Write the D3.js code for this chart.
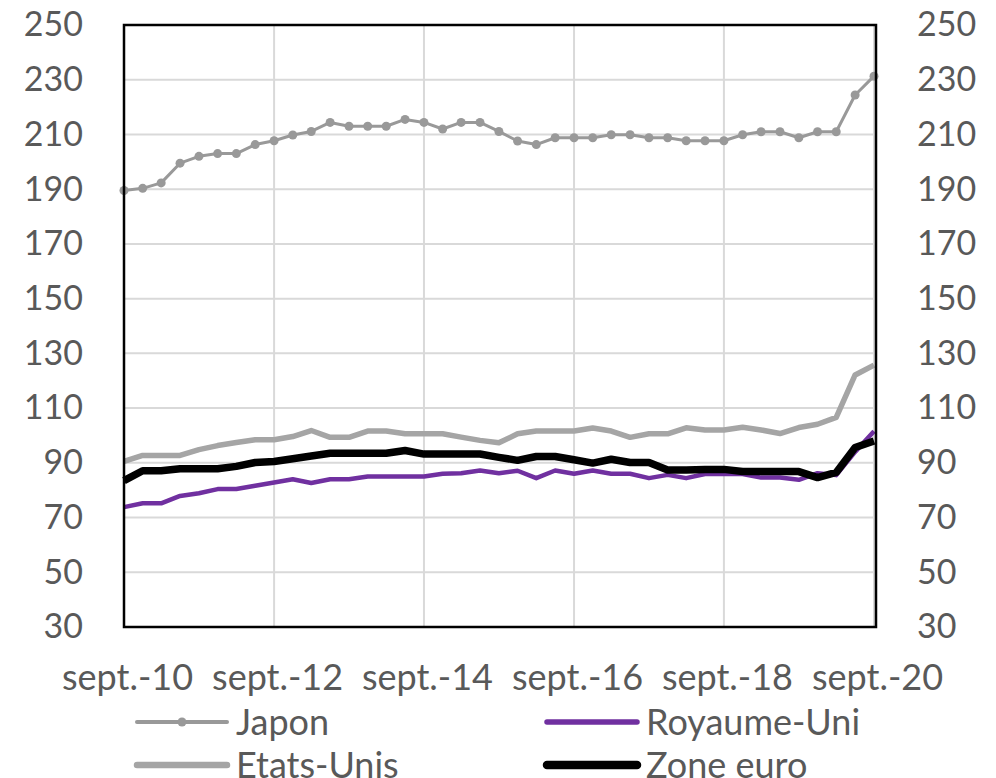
<!DOCTYPE html>
<html>
<head>
<meta charset="utf-8">
<script src="https://cdn.jsdelivr.net/npm/d3@7"></script>
<style>
  body { margin: 0; background: #fff; }
  text { font-family: Lato, "Open Sans", sans-serif; fill: #595959; }
</style>
</head>
<body>
<div id="chart"></div>
<script>
// quarterly points, sept-10 .. sept-20
var japon = [189.5, 190.3, 192.3, 199.5, 202, 203, 203, 206.3, 207.7, 209.8,
             211.1, 214.4, 213, 213, 213, 215.5, 214.4, 212, 214.4, 214.4,
             211.1, 207.6, 206.3, 208.8, 208.8, 208.8, 209.9, 209.9, 208.8, 208.8,
             207.7, 207.7, 207.7, 209.9, 211, 211, 208.8, 211, 211, 224.4, 231.3];
var etatsUnis = [90.5, 92.7, 92.7, 92.7, 94.8, 96.3, 97.4, 98.4, 98.4, 99.6,
                 101.8, 99.3, 99.3, 101.6, 101.6, 100.6, 100.6, 100.6, 99.4, 98.2,
                 97.3, 100.6, 101.6, 101.6, 101.6, 102.7, 101.6, 99.3, 100.6, 100.6,
                 102.8, 102, 102, 103, 102, 100.7, 102.9, 104.1, 106.6, 122.1, 125.7];
var royaumeUni = [73.8, 75.2, 75.2, 77.9, 78.9, 80.4, 80.4, 81.6, 82.8, 84,
                  82.6, 84, 84, 85, 85, 85, 85, 86, 86.2, 87.2,
                  86.2, 87.1, 84.4, 87.2, 86, 87.2, 86, 86, 84.4, 85.6,
                  84.4, 85.9, 85.9, 85.9, 84.6, 84.6, 83.8, 86.2, 85.5, 94, 101.5];
var zoneEuro = [83.5, 87.1, 87.1, 87.8, 87.8, 87.8, 88.7, 90.1, 90.5, 91.5,
                92.5, 93.5, 93.5, 93.5, 93.5, 94.5, 93.2, 93.2, 93.2, 93.2,
                92, 90.9, 92.3, 92.3, 91.1, 89.9, 91.3, 90.1, 90.1, 87.4,
                87.4, 87.6, 87.6, 86.8, 86.8, 86.8, 86.8, 84.6, 86.5, 95.6, 98];
var yTicks = [30, 50, 70, 90, 110, 130, 150, 170, 190, 210, 230, 250];
var xTickLabels = ["sept.-10", "sept.-12", "sept.-14", "sept.-16", "sept.-18", "sept.-20"];

var dates = japon.map(function(d, i) { return new Date(2010, 8 + 3 * i, 1); });
var xTicks = xTickLabels.map(function(d, i) { return new Date(2010 + 2 * i, 8, 1); });

var W = 996, H = 778;
var margin = {left: 124, right: 876, top: 25, bottom: 627};

var svg = d3.select("#chart").append("svg")
    .attr("width", W)
    .attr("height", H);

var x = d3.scaleTime()
    .domain([dates[0], dates[dates.length - 1]])
    .range([margin.left, 874]);

var y = d3.scaleLinear()
    .domain([30, 250])
    .range([margin.bottom, margin.top]);

// grid
svg.append("g").selectAll("line")
    .data(yTicks)
    .enter().append("line")
    .attr("x1", margin.left).attr("x2", margin.right)
    .attr("y1", function(d) { return y(d); })
    .attr("y2", function(d) { return y(d); })
    .attr("stroke", "#d9d9d9")
    .attr("stroke-width", 2);

svg.append("g").selectAll("line")
    .data(xTicks.slice(1))
    .enter().append("line")
    .attr("x1", function(d) { return x(d); })
    .attr("x2", function(d) { return x(d); })
    .attr("y1", margin.top).attr("y2", margin.bottom)
    .attr("stroke", "#d9d9d9")
    .attr("stroke-width", 2);

// axes
var fmt = function(d, i) { return xTickLabels[i]; };

svg.append("g")
    .attr("transform", "translate(" + margin.left + ",0)")
    .call(d3.axisLeft(y).tickValues(yTicks).tickSize(0).tickPadding(41))
    .call(function(g) { g.select(".domain").remove(); })
    .selectAll("text").style("font-size", "34px").attr("fill", "#595959")
    .style("font-family", "Lato, 'Open Sans', sans-serif");

svg.append("g")
    .attr("transform", "translate(" + margin.right + ",0)")
    .call(d3.axisRight(y).tickValues(yTicks).tickSize(0).tickPadding(41))
    .call(function(g) { g.select(".domain").remove(); })
    .selectAll("text").style("font-size", "34px").attr("fill", "#595959")
    .style("font-family", "Lato, 'Open Sans', sans-serif");

svg.append("g")
    .attr("transform", "translate(0," + margin.bottom + ")")
    .call(d3.axisBottom(x).tickValues(xTicks).tickFormat(fmt).tickSize(0).tickPadding(37))
    .call(function(g) { g.select(".domain").remove(); })
    .selectAll("text").style("font-size", "36px").attr("fill", "#595959").attr("dx", 3)
    .style("font-family", "Lato, 'Open Sans', sans-serif");

// lines
var line = d3.line()
    .x(function(d, i) { return x(dates[i]); })
    .y(function(d) { return y(d); });

var series = [
    {name: "Japon", values: japon, color: "#999999", width: 3, pos: [137, 722]},
    {name: "Etats-Unis", values: etatsUnis, color: "#a5a5a5", width: 5.5, pos: [137, 765]},
    {name: "Royaume-Uni", values: royaumeUni, color: "#7030a0", width: 4.5, pos: [547, 722]},
    {name: "Zone euro", values: zoneEuro, color: "#000000", width: 7.5, pos: [547, 765]}
];

series.forEach(function(s) {
    svg.append("path")
        .datum(s.values)
        .attr("d", line)
        .attr("fill", "none")
        .attr("stroke", s.color)
        .attr("stroke-width", s.width)
        .attr("stroke-linejoin", "round");
});

svg.append("g").selectAll("circle")
    .data(japon)
    .enter().append("circle")
    .attr("cx", function(d, i) { return x(dates[i]); })
    .attr("cy", function(d) { return y(d); })
    .attr("r", 4.5)
    .attr("fill", "#999999");

// frame
svg.append("rect")
    .attr("x", margin.left).attr("y", margin.top)
    .attr("width", margin.right - margin.left).attr("height", margin.bottom - margin.top)
    .attr("fill", "none")
    .attr("stroke", "#000")
    .attr("stroke-width", 2.5);

// legend
series.forEach(function(s, si) {
    var p = s.pos;
    var lg = svg.append("g");
    lg.append("line")
        .attr("x1", p[0]).attr("x2", p[0] + 90)
        .attr("y1", p[1]).attr("y2", p[1])
        .attr("stroke", s.color)
        .attr("stroke-width", s.width + 1)
        .attr("stroke-linecap", "round");
    if (si === 0) {
        lg.append("circle")
            .attr("cx", p[0] + 45).attr("cy", p[1]).attr("r", 4.5)
            .attr("fill", s.color);
    }
    lg.append("text")
        .attr("x", p[0] + 99)
        .attr("y", p[1])
        .attr("dy", "0.35em")
        .style("font-size", "36px")
        .text(s.name);
});
</script>
</body>
</html>
